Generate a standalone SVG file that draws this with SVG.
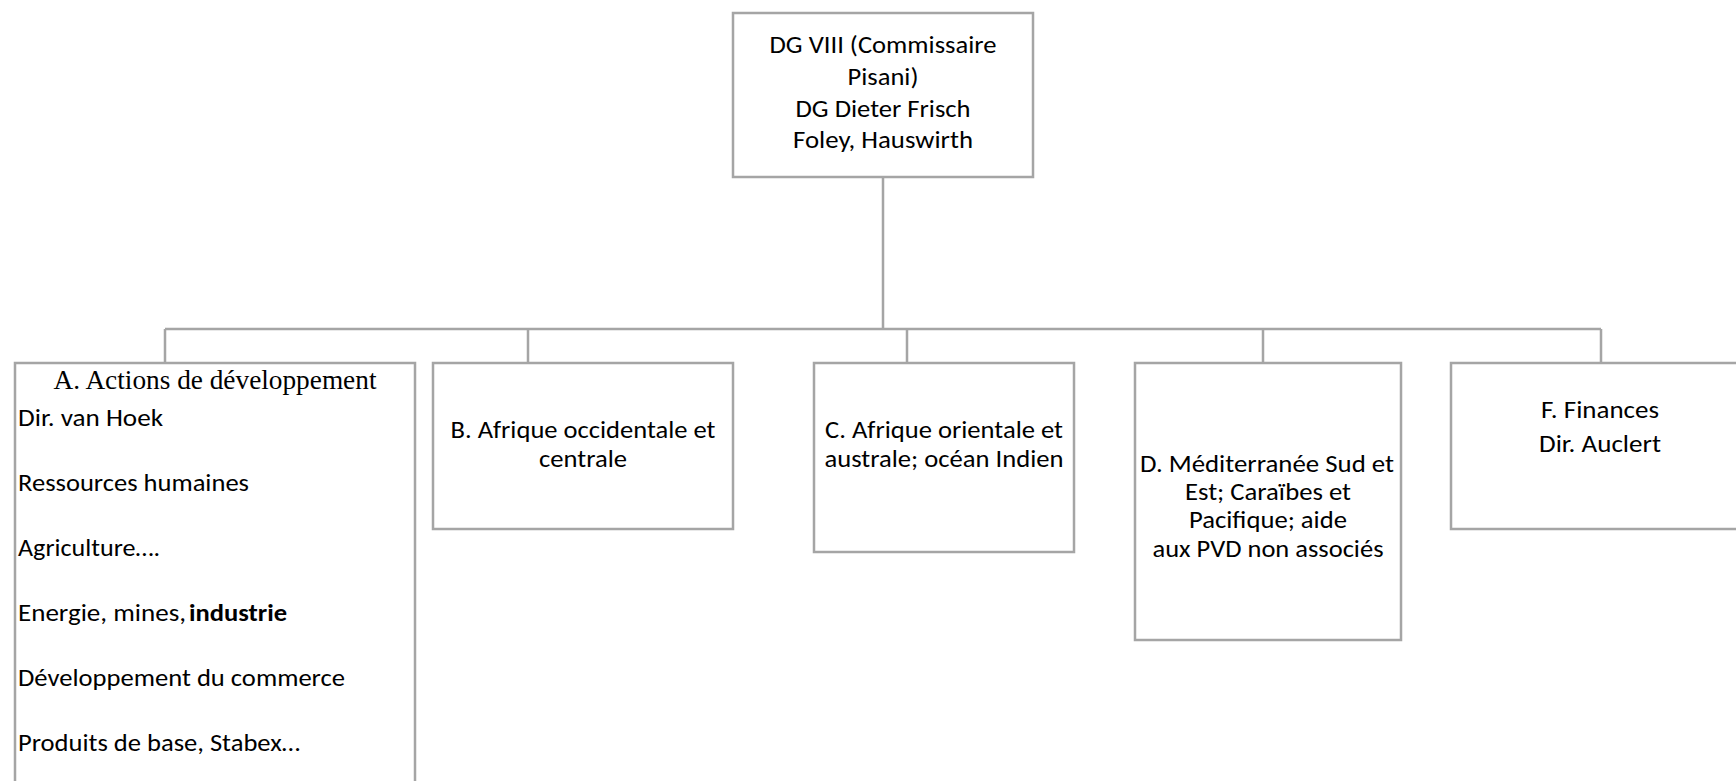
<svg xmlns="http://www.w3.org/2000/svg" width="1736" height="781" viewBox="0 0 1736 781">
<style>
.box{fill:#ffffff;stroke:#a5a5a5;stroke-width:2.5}
.ln{fill:none;stroke:#a5a5a5;stroke-width:2.5}
.t{font-family:Carlito,Calibri,Lato,sans-serif;font-size:25px;fill:#000000}
.c{text-anchor:middle}
.s{font-family:"Liberation Serif","Times New Roman",serif;font-size:27.3px;fill:#000000}
</style>
<rect width="1736" height="781" fill="#ffffff"/>
<g id="connectors">
<path class="ln" d="M883 177 V329 M165 329 H1601 M165 329 V363 M528 329 V363 M907 329 V363 M1263 329 V363 M1601 329 V363"/>
</g>
<g id="node-dg8">
<rect class="box" x="733" y="13" width="300" height="164"/>
<text class="t c" x="883" y="53" textLength="227" lengthAdjust="spacingAndGlyphs">DG VIII (Commissaire</text>
<text class="t c" x="883" y="85" textLength="71" lengthAdjust="spacingAndGlyphs">Pisani)</text>
<text class="t c" x="883" y="116.5" textLength="175" lengthAdjust="spacingAndGlyphs">DG Dieter Frisch</text>
<text class="t c" x="883" y="148" textLength="180" lengthAdjust="spacingAndGlyphs">Foley, Hauswirth</text>
</g>
<g id="node-a">
<rect class="box" x="15" y="363" width="400" height="440"/>
<text class="s c" x="215" y="389">A. Actions de développement</text>
<text class="t" x="18" y="425.5" textLength="145" lengthAdjust="spacingAndGlyphs">Dir. van Hoek</text>
<text class="t" x="18" y="490.5" textLength="231" lengthAdjust="spacingAndGlyphs">Ressources humaines</text>
<text class="t" x="18" y="555.5" textLength="142" lengthAdjust="spacingAndGlyphs">Agriculture….</text>
<text class="t" x="18" y="620.5"><tspan textLength="168" lengthAdjust="spacingAndGlyphs">Energie, mines,</tspan> <tspan x="189" font-weight="bold" textLength="98" lengthAdjust="spacingAndGlyphs">industrie</tspan></text>
<text class="t" x="18" y="685.5" textLength="327" lengthAdjust="spacingAndGlyphs">Développement du commerce</text>
<text class="t" x="18" y="750.5" textLength="282" lengthAdjust="spacingAndGlyphs">Produits de base, Stabex…</text>
</g>
<g id="node-b">
<rect class="box" x="433" y="363" width="300" height="166"/>
<text class="t c" x="583" y="438" textLength="265" lengthAdjust="spacingAndGlyphs">B. Afrique occidentale et</text>
<text class="t c" x="583" y="467" textLength="88" lengthAdjust="spacingAndGlyphs">centrale</text>
</g>
<g id="node-c">
<rect class="box" x="814" y="363" width="260" height="189"/>
<text class="t c" x="944" y="438" textLength="238" lengthAdjust="spacingAndGlyphs">C. Afrique orientale et</text>
<text class="t c" x="944" y="467" textLength="239" lengthAdjust="spacingAndGlyphs">australe; océan Indien</text>
</g>
<g id="node-d">
<rect class="box" x="1135" y="363" width="266" height="277"/>
<text class="t c" x="1267" y="472" textLength="254" lengthAdjust="spacingAndGlyphs">D. Méditerranée Sud et</text>
<text class="t c" x="1268" y="500" textLength="166" lengthAdjust="spacingAndGlyphs">Est; Caraïbes et</text>
<text class="t c" x="1268" y="528" textLength="158" lengthAdjust="spacingAndGlyphs">Pacifique; aide</text>
<text class="t c" x="1268" y="556.5" textLength="231" lengthAdjust="spacingAndGlyphs">aux PVD non associés</text>
</g>
<g id="node-f">
<rect class="box" x="1451" y="363" width="300" height="166"/>
<text class="t c" x="1600" y="418" textLength="118" lengthAdjust="spacingAndGlyphs">F. Finances</text>
<text class="t c" x="1600" y="452" textLength="122" lengthAdjust="spacingAndGlyphs">Dir. Auclert</text>
</g>
</svg>
